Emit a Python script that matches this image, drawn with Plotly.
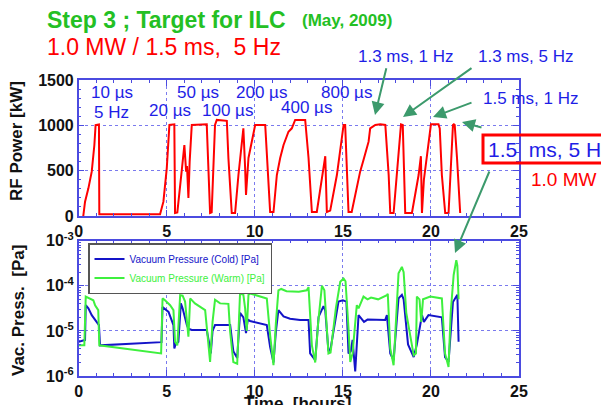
import plotly.graph_objects as go

# ---------------- data ----------------
rf_time = [0.26, 0.36, 0.55, 0.74, 0.89, 0.96, 1.15, 1.17, 1.25, 4.62, 4.81, 5.0, 5.15, 5.43, 5.47, 5.6,
           5.85, 6.0, 6.1, 6.15, 6.23, 6.3, 6.42, 7.27, 7.46, 7.55, 7.74, 7.84, 8.41, 8.5, 8.69, 8.88,
           9.07, 9.26, 9.35, 9.45, 9.5, 9.64, 9.83, 10.02, 10.59, 10.77, 10.87, 11.06, 11.25, 11.44,
           11.63, 11.91, 12.1, 12.29, 12.86, 13.05, 13.24, 13.52, 13.81, 14.0, 14.09, 14.28, 14.66,
           14.94, 15.04, 15.13, 15.22, 15.32, 15.5, 15.98, 16.17, 16.46, 16.55, 16.84, 17.12, 17.41,
           17.6, 17.69, 17.88, 18.16, 18.3, 18.4, 18.54, 18.92, 19.3, 19.43, 19.49, 19.6, 19.86, 20.0,
           20.43, 20.5, 20.62, 20.81, 21.0, 21.25, 21.3, 21.35, 21.48, 21.66]
rf_power_kw = [0, 158, 305, 489, 783, 1004, 1011, 20, 20, 20, 158, 526, 1004, 1011, 33, 40,
               500, 783, 489, 550, 198, 600, 1004, 1011, 33, 40, 1004, 1060, 1050, 640, 33, 33,
               452, 820, 967, 530, 232, 640, 820, 1004, 1004, 452, 44, 44, 452, 640,
               783, 930, 967, 1059, 1059, 640, 44, 44, 452, 660, 44, 60, 452,
               820, 1004, 1004, 500, 44, 44, 489, 618, 820, 967, 1004, 1011, 1004,
               452, 33, 33, 640, 1011, 1004, 33, 33, 452, 660, 33, 400, 820, 1011,
               1011, 967, 452, 33, 33, 1004, 1011, 1004, 640, 33]

cold_time = [0, 0.36, 0.4, 0.55, 0.74, 1.02, 1.15, 1.21, 4.62, 4.7, 4.76, 5.1, 5.38, 5.43, 5.5, 5.66,
             5.8, 5.9, 6.14, 6.23, 6.42, 7.27, 7.46, 7.5, 7.6, 7.74, 8.6, 8.78, 9.0, 9.16, 9.35, 9.5,
             9.6, 9.73, 10.68, 10.87, 11.06, 11.2, 11.34, 11.63, 12.0, 12.57, 13.05, 13.14, 13.43,
             13.62, 13.9, 14.0, 14.18, 14.3, 14.75, 15.0, 15.2, 15.32, 15.45, 15.55, 15.7, 15.89,
             16.2, 16.4, 17.4, 17.5, 17.69, 17.88, 18.16, 18.35, 18.45, 18.7, 19.02, 19.2, 19.49,
             19.6, 19.86, 20.62, 20.8, 21.0, 21.25, 21.44, 21.5, 21.57]
cold_log10_pa = [-5.24, -5.2, -4.43, -4.5, -4.65, -4.8, -4.87, -5.32, -5.24, -5.25, -4.47, -4.58, -4.87,
                 -5.39, -5.3, -5.24, -4.39, -4.5, -4.87, -4.95, -4.98, -4.98, -5.38, -5.5, -5.0, -4.87,
                 -4.87, -5.45, -5.6, -4.6, -4.7, -5.05, -4.75, -4.78, -4.87, -5.36, -5.7, -5.0, -4.54,
                 -4.68, -4.73, -4.76, -4.76, -5.5, -5.65, -4.69, -4.45, -4.55, -5.45, -5.4, -4.35,
                 -4.32, -4.35, -5.5, -5.45, -5.2, -5.9, -4.65, -4.8, -4.75, -4.76, -4.65, -5.5, -5.65,
                 -4.28, -4.2, -4.3, -5.3, -5.58, -5.3, -4.65, -4.8, -4.65, -4.7, -5.58, -5.69, -4.36,
                 -4.24, -4.2, -5.24]

warm_time = [0, 0.32, 0.4, 0.55, 0.83, 0.93, 1.11, 1.17, 4.68, 4.76, 4.9, 5.19, 5.38, 5.47, 5.6, 5.76,
             5.9, 6.04, 6.23, 6.33, 6.6, 7.18, 7.37, 7.46, 7.6, 7.74, 8.03, 8.5, 8.6, 8.78, 9.0, 9.16,
             9.35, 9.45, 9.54, 9.64, 9.73, 10.68, 10.87, 11.06, 11.2, 11.34, 11.5, 11.8, 12.5, 12.95,
             13.05, 13.24, 13.43, 13.6, 13.81, 13.95, 14.18, 14.3, 14.6, 14.85, 15.04, 15.15, 15.32,
             15.42, 15.55, 15.79, 15.89, 16.17, 16.4, 16.6, 17.0, 17.5, 17.55, 17.69, 17.88, 18.05,
             18.16, 18.35, 18.45, 18.6, 19.02, 19.15, 19.2, 19.35, 19.45, 19.55, 19.96, 20.62, 20.8,
             21.0, 21.12, 21.29, 21.44, 21.5, 21.57]
warm_log10_pa = [-5.32, -5.32, -4.24, -4.27, -4.32, -4.43, -4.54, -5.32, -5.5, -4.28, -4.32, -4.43,
                 -4.54, -5.24, -5.32, -4.21, -4.22, -4.35, -5.13, -4.28, -4.39, -4.54, -5.32, -5.69,
                 -4.8, -4.31, -4.39, -4.4, -5.02, -5.69, -5.73, -4.17, -4.2, -4.5, -5.0, -4.2, -4.17,
                 -4.28, -5.1, -5.76, -4.8, -4.1, -4.07, -4.12, -4.13, -4.1, -4.03, -5.32, -5.7, -4.8,
                 -4.0, -4.1, -5.5, -5.48, -4.5, -3.91, -3.84, -3.9, -4.95, -5.69, -5.5, -4.43, -4.5,
                 -4.24, -4.3, -4.26, -4.3, -4.21, -4.18, -5.39, -5.76, -4.5, -3.72, -3.58, -3.7, -4.6,
                 -5.54, -5.5, -4.24, -4.3, -4.8, -4.3, -4.24, -4.28, -5.5, -5.8, -4.6, -3.76, -3.43,
                 -3.55, -4.3]

cold_pa = [10 ** e for e in cold_log10_pa]
warm_pa = [10 ** e for e in warm_log10_pa]

log_tickvals = [1e-6, 1e-5, 1e-4, 1e-3]
log_ticktext = ["10<sup>-6</sup>", "10<sup>-5</sup>", "10<sup>-4</sup>", "10<sup>-3</sup>"]

# ---------------- styling ----------------
W, H = 601, 405
FRAME = "#4b4be0"
GRID = "#7a7aee"
RED = "#ff0000"
BLUE_LINE = "#1414c8"
GREEN_LINE = "#3ef03e"
GREEN_TXT = "#24c024"
BLUE_TXT = "#1e1ee6"
ARROW = "#3c9a6c"
FONT = "Liberation Sans, Arial, sans-serif"


def px(x):
    return x / W


def py(y):
    return 1 - y / H


fig = go.Figure()
fig.add_trace(go.Scatter(x=rf_time, y=rf_power_kw, mode="lines", line=dict(color=RED, width=2),
                         showlegend=False, xaxis="x", yaxis="y"))
fig.add_trace(go.Scatter(x=cold_time, y=cold_pa, mode="lines", line=dict(color=BLUE_LINE, width=2),
                         name="<span style='color:#1414c8'>Vacuum Pressure (Cold) [Pa]</span>",
                         xaxis="x2", yaxis="y2"))
fig.add_trace(go.Scatter(x=warm_time, y=warm_pa, mode="lines", line=dict(color=GREEN_LINE, width=2),
                         name="<span style='color:#3ef03e'>Vacuum Pressure (Warm) [Pa]</span>",
                         xaxis="x2", yaxis="y2"))

tickfont = dict(family=FONT, size=16, color="#111", weight="bold")
common_x = dict(range=[0, 25], dtick=5, tick0=0, ticks="inside", ticklen=6, tickcolor=FRAME,
                mirror="allticks", showline=True, linecolor=FRAME, linewidth=1.5,
                showgrid=True, gridcolor=GRID, griddash="dot", gridwidth=1,
                zeroline=False, tickfont=tickfont, automargin=False,
                minor=dict(dtick=1, ticks="inside", ticklen=3, tickcolor=FRAME, showgrid=False),
                domain=[px(78.7), px(519)])

fig.update_layout(
    width=W, height=H, margin=dict(l=0, r=0, t=0, b=0, autoexpand=False),
    paper_bgcolor="white", plot_bgcolor="white",
    font=dict(family=FONT),
    xaxis=dict(anchor="y", **common_x),
    xaxis2=dict(anchor="y2", **common_x),
    yaxis=dict(anchor="x", domain=[py(216), py(80)], range=[0, 1500], dtick=500, ticks="inside",
               ticklen=6, tickcolor=FRAME, mirror="allticks", showline=True, linecolor=FRAME,
               linewidth=1.5, showgrid=True, gridcolor=GRID, griddash="dot", zeroline=False,
               tickfont=tickfont, automargin=False,
               minor=dict(dtick=100, ticks="inside", ticklen=3, tickcolor=FRAME, showgrid=False)),
    yaxis2=dict(anchor="x2", domain=[py(376), py(240.7)], type="log", range=[-6, -3],
                tickvals=log_tickvals, ticktext=log_ticktext, ticks="inside", ticklen=6,
                tickcolor=FRAME, mirror="allticks", showline=True, linecolor=FRAME, linewidth=1.5,
                showgrid=True, gridcolor=GRID, griddash="dot", zeroline=False, tickfont=tickfont,
                automargin=False,
                minor=dict(dtick="D1", ticks="inside", ticklen=3, tickcolor=FRAME, showgrid=False)),
    legend=dict(x=px(88), y=py(243), xanchor="left", yanchor="top", bgcolor="white",
                bordercolor="#555", borderwidth=1.5, font=dict(family=FONT, size=10),
                tracegroupgap=0, itemwidth=30),
)

annotations = []


def txt(text, x, y, size, color, bold=True, xanchor="center", angle=0):
    annotations.append(dict(text=text, x=px(x), y=py(y), xref="paper", yref="paper",
                            xanchor=xanchor, yanchor="middle", showarrow=False, textangle=angle,
                            font=dict(family=FONT, size=size, color=color,
                                      weight="bold" if bold else "normal")))


txt("Step 3 ; Target for ILC", 45, 20, 23, GREEN_TXT, xanchor="left")
txt("(May, 2009)", 300, 20, 17, GREEN_TXT, xanchor="left")
txt("1.0 MW / 1.5 ms,  5 Hz", 45, 47, 23, RED, bold=False, xanchor="left")

txt("RF Power [kW]", 17, 141, 17, "#111", angle=-90)
txt("Vac. Press.  [Pa]", 18, 311, 17, "#111", angle=-90)
txt("Time  [hours]", 297, 403, 17, "#111")

for label, cx, cy in [("10 µs", 112, 92), ("5 Hz", 111, 112), ("50 µs", 198, 92), ("20 µs", 170, 110),
                      ("100 µs", 227, 110), ("200 µs", 261, 92), ("400 µs", 306, 108),
                      ("800 µs", 346, 92), ("1.3 ms, 1 Hz", 405, 57), ("1.3 ms, 5 Hz", 525, 57),
                      ("1.5 ms, 1 Hz", 530, 98)]:
    txt(label, cx, cy, 17, BLUE_TXT, bold=False)

txt("1.5  ms, 5 Hz", 486, 149, 21, BLUE_TXT, bold=False, xanchor="left")
txt("1.0 MW", 564, 179, 19, RED, bold=False)

for (tx, ty), (hx, hy) in [((386.7, 66.7), (375, 115)), ((473, 67), (403, 117)),
                           ((473, 102), (433, 117)), ((483, 128), (462, 122)),
                           ((490, 170), (455, 253))]:
    annotations.append(dict(x=px(hx), y=py(hy), xref="paper", yref="paper", text="",
                            showarrow=True, ax=tx - hx, ay=ty - hy, axref="pixel", ayref="pixel",
                            arrowhead=2, arrowsize=1.3, arrowwidth=2, arrowcolor=ARROW))

fig.update_layout(annotations=annotations)
fig.add_shape(type="rect", xref="paper", yref="paper", x0=px(483), x1=px(603), y0=py(163), y1=py(135),
              line=dict(color=RED, width=3), fillcolor="rgba(0,0,0,0)")

fig.write_html("out.html")
